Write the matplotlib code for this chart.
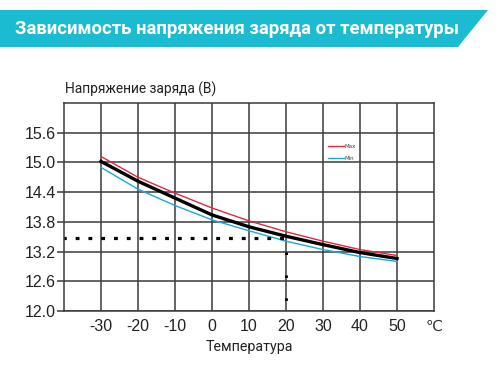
import matplotlib
matplotlib.use("Agg")
import matplotlib.pyplot as plt
from matplotlib.patches import Polygon
from matplotlib import font_manager

W, H = 500, 380

temps = [-30, -20, -10, 0, 10, 20, 30, 40, 50]
v_max = [15.12, 14.70, 14.38, 14.08, 13.82, 13.60, 13.41, 13.24, 13.12]
v_nom = [15.02, 14.62, 14.28, 13.94, 13.70, 13.51, 13.34, 13.18, 13.06]
v_min = [14.90, 14.46, 14.13, 13.84, 13.62, 13.41, 13.24, 13.10, 13.00]
ref_temp = 20
ref_voltage = 13.47

x_ticks = [-30, -20, -10, 0, 10, 20, 30, 40, 50]
y_ticks = [12.0, 12.6, 13.2, 13.8, 14.4, 15.0, 15.6]

title = "Зависимость напряжения заряда от температуры"
ylabel = "Напряжение заряда (В)"
xlabel = "Температура"
unit = "℃"

names = {f.name for f in font_manager.fontManager.ttflist}
narrow = "Liberation Sans Narrow" if "Liberation Sans Narrow" in names else "Liberation Sans"

fig = plt.figure(figsize=(W / 100, H / 100), dpi=100)
ax = fig.add_axes([64 / W, 1 - 311 / H, 370 / W, 208 / H])

grid_c = "#3a3a3a"
ax.set_xlim(-40, 60)
ax.set_ylim(12.0, 16.2)
ax.set_xticks(x_ticks)
ax.set_yticks(y_ticks)
ax.set_xticklabels([f"{t}" for t in x_ticks], fontfamily=narrow, fontsize=11.5, color="#222222")
ax.set_yticklabels([f"{v:.1f}" for v in y_ticks], fontfamily=narrow, fontsize=11.5, color="#222222")
ax.tick_params(axis="x", length=0, pad=6)
ax.tick_params(axis="y", length=5, width=1.1, color=grid_c, pad=1)
ax.grid(True, color=grid_c, linewidth=1.1)
for s in ax.spines.values():
    s.set_color(grid_c)
    s.set_linewidth(1.1)
ax.set_axisbelow(True)

ax.plot(temps, v_max, color="#e8253f", lw=1.0, label="Max", zorder=3)
ax.plot(temps, v_min, color="#17a9e1", lw=1.0, label="Min", zorder=3)
ax.plot(temps, v_nom, color="black", lw=2.4, zorder=4)

ax.plot([-40, ref_temp], [ref_voltage, ref_voltage], color="black", lw=2.3,
        linestyle=(0.5, (1.2, 2.8)), dash_capstyle="butt", zorder=5)
ax.plot([ref_temp, ref_temp], [ref_voltage, 12.0], color="black", lw=2.2,
        linestyle=(2.9, (0.8, 6.7)), dash_capstyle="butt", zorder=5)

leg = ax.legend(loc="upper left", bbox_to_anchor=(0.705, 0.815), fontsize=4,
                handlelength=3.0, handletextpad=0.1, labelspacing=1.2,
                frameon=False, borderpad=0)
for t in leg.get_texts():
    t.set_color("#444444")

ax.text(1.0, -0.072, unit, transform=ax.transAxes, ha="center", va="center",
        fontsize=11, color="#333333", fontfamily=["DejaVu Sans"])

fig.text(249 / W, 1 - 347 / H, xlabel, ha="center", va="center", fontsize=10.3,
         color="#222222", fontfamily=["Roboto", "DejaVu Sans"])
fig.text(65 / W, 1 - 89 / H, ylabel, ha="left", va="center", fontsize=9.9,
         color="#222222", fontfamily=["Roboto", "DejaVu Sans"])

band = Polygon([(0, 1 - 10 / H), (488 / W, 1 - 10 / H), (458 / W, 1 - 47 / H), (0, 1 - 47 / H)],
               closed=True, transform=fig.transFigure, facecolor="#1bbcd1", edgecolor="none")
fig.add_artist(band)
ttl = fig.text(15 / W, 1 - 28.5 / H, title, ha="left", va="center", fontsize=12.5,
               fontweight="bold", color="white", fontfamily=["Roboto", "DejaVu Sans"])
renderer = fig.canvas.get_renderer()
w = ttl.get_window_extent(renderer).width
ttl.set_fontsize(12.5 * 444 / w)

fig.savefig("out.png", dpi=100)
